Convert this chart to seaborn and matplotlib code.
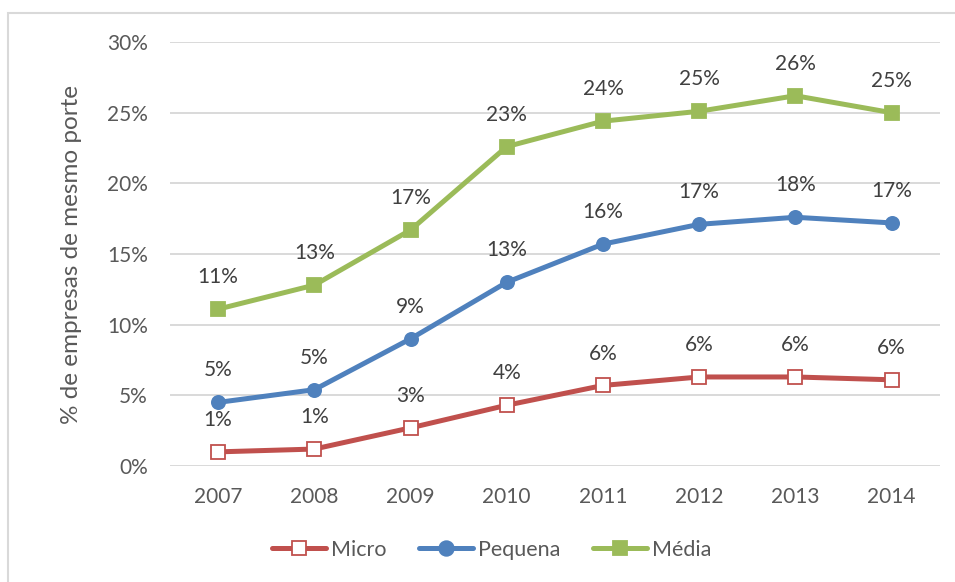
import pandas as pd
import seaborn as sns
import matplotlib.pyplot as plt
from matplotlib.lines import Line2D
from matplotlib.patches import Rectangle

# valores (% de empresas de mesmo porte)
anos = ['2007', '2008', '2009', '2010', '2011', '2012', '2013', '2014']
micro = [1.0, 1.2, 2.7, 4.3, 5.7, 6.3, 6.3, 6.1]
pequena = [4.5, 5.4, 9.0, 13.0, 15.7, 17.1, 17.6, 17.2]
media = [11.1, 12.8, 16.7, 22.6, 24.4, 25.1, 26.2, 25.0]

series = ['Micro', 'Pequena', 'Média']
valores = [micro, pequena, media]
cores = ['#C0504D', '#4F81BD', '#9BBB59']
marcadores = ['s', 'o', 's']
faces = ['white', '#4F81BD', '#9BBB59']

sns.set_style('white')
plt.rcParams['font.family'] = ['Lato', 'DejaVu Sans']
cinza = '#595959'

fig = plt.figure(figsize=(9.55, 5.82), dpi=100)
ax = fig.add_axes([0.178, 0.1993, 0.806, 0.7285])

# moldura externa (so topo e esquerda visiveis)
fig.patches.append(Rectangle((8 / 955, -0.05), 1.2, 1 - 13 / 582 + 0.05,
                             transform=fig.transFigure, fill=False,
                             edgecolor='#d9d9d9', linewidth=1.5))

for nome, vals, cor, m, fc in zip(series, valores, cores, marcadores, faces):
    df = pd.DataFrame({'pos': range(len(anos)), 'val': vals})
    sns.lineplot(data=df, x='pos', y='val', ax=ax, color=cor, linewidth=3.6,
                 marker=m, markersize=9.5,
                 markerfacecolor=fc, markeredgecolor=cor,
                 markeredgewidth=1.3, zorder=3)
    for i, v in enumerate(vals):
        ax.annotate(f'{int(v + 0.5)}%', (i, v), xytext=(0, 23),
                    textcoords='offset points', ha='center', va='center',
                    fontsize=15, color='#404040')

ax.set_xlim(-0.5, len(anos) - 0.5)
ax.set_ylim(0, 30)
ax.set_xticks(range(len(anos)))
ax.set_xticklabels(anos)
ax.set_yticks(range(0, 31, 5))
ax.set_yticklabels([f'{t}%' for t in range(0, 31, 5)])
ax.tick_params(axis='both', labelsize=15, labelcolor=cinza, length=0)
ax.tick_params(axis='y', pad=16)
ax.tick_params(axis='x', pad=15)
ax.grid(axis='y', color='#d9d9d9', linewidth=1.4)
ax.set_axisbelow(True)
for s in ax.spines.values():
    s.set_visible(False)
ax.set_xlabel('')
ax.set_ylabel('% de empresas de mesmo porte', fontsize=17.5, color=cinza, labelpad=18)

handles = [Line2D([], [], color=c, linewidth=3.6, marker=m, markersize=10.5,
                  markerfacecolor=fc, markeredgecolor=c, markeredgewidth=1.3)
           for c, m, fc in zip(cores, marcadores, faces)]
fig.legend(handles, series, loc='center', bbox_to_anchor=(0.515, 0.055),
           ncol=3, frameon=False, fontsize=15.5, handlelength=2.5,
           columnspacing=1.5, handletextpad=0.25, labelcolor=cinza)

fig.savefig('out.png', dpi=100)
